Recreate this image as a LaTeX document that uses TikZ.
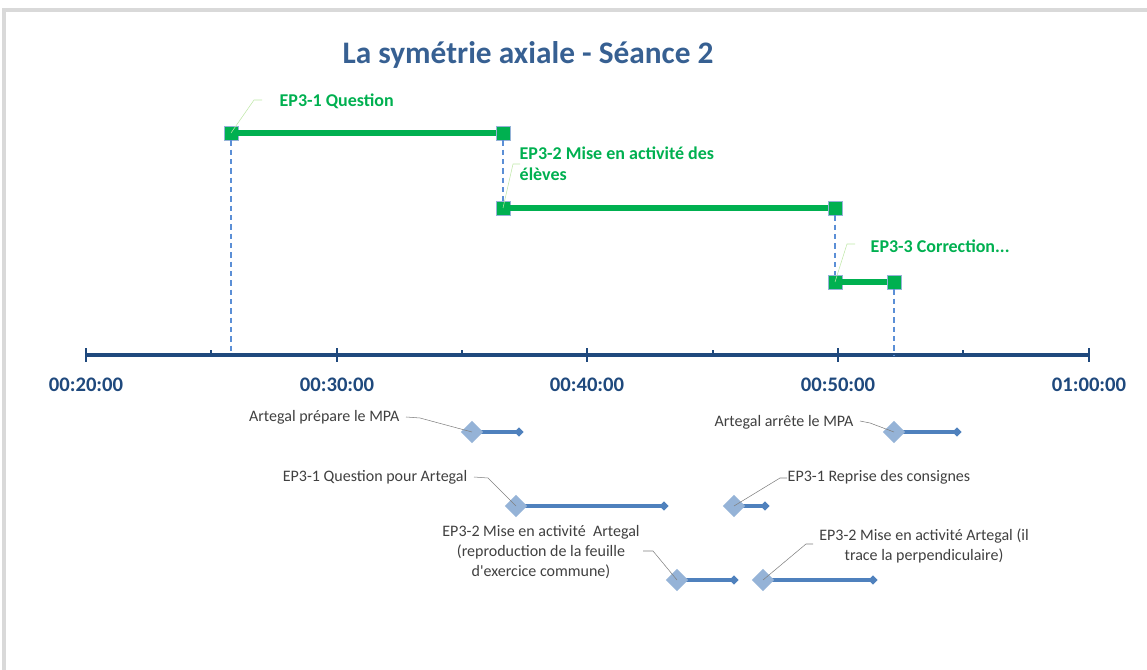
\documentclass[tikz,border=0pt]{standalone}
\usepackage{fontspec}
\setmainfont{Carlito}
\usetikzlibrary{shapes.geometric,backgrounds}
\definecolor{axisblue}{HTML}{1F497D}
\definecolor{titleblue}{HTML}{376092}
\definecolor{epgreen}{HTML}{00B050}
\definecolor{barblue}{HTML}{4F81BD}
\definecolor{diablue}{HTML}{95B3D7}
\definecolor{dashblue}{HTML}{5B8FD6}
\definecolor{framegray}{HTML}{D9D9D9}
\definecolor{txtgray}{HTML}{404040}
\tikzset{
  grbar/.style={line width=3.8pt, epgreen},
  grsq/.style={rectangle, fill=epgreen, draw=diablue, line width=0.6pt, minimum size=10.5pt, inner sep=0pt},
  glead/.style={line width=0.4pt, green!45!olive!35},
  dashv/.style={dashed, dashblue, line width=0.8pt, dash pattern=on 4pt off 3pt},
  bluebar/.style={line width=2.8pt, barblue},
  bigdia/.style={diamond, fill=diablue, minimum size=17pt, inner sep=0pt},
  smalldia/.style={diamond, fill=barblue, minimum size=7pt, inner sep=0pt},
  lead/.style={line width=0.4pt, gray},
  ticklbl/.style={font=\fontsize{15.5}{18}\selectfont\bfseries, text=axisblue},
  grlbl/.style={font=\fontsize{13.5}{15.8}\selectfont\bfseries, text=epgreen, align=left},
  gylbl/.style={font=\fontsize{12}{15}\selectfont, text=txtgray}
}
\begin{document}
\begin{tikzpicture}[x=0.75pt, y=-0.75pt]
    \useasboundingbox (0,0) rectangle (1147,670);
    % frame
    \draw[framegray, line width=3.5pt] (4,670) -- (4,10) -- (1147,10);
    % title
    \node[font=\fontsize{23.5}{28}\selectfont\bfseries, text=titleblue] (title) at (528,55) {La symétrie axiale - Séance 2};
    % axis
    \coordinate (a20) at (86,355);
    \coordinate (a30) at (337,355);
    \coordinate (a40) at (587,355);
    \coordinate (a50) at (838,355);
    \coordinate (a60) at (1089,355);
    \draw[axisblue, line width=2.3pt] (a20) -- (a60);
    \foreach \p/\t in {a20/00:20:00, a30/00:30:00, a40/00:40:00, a50/00:50:00, a60/01:00:00} {
        \draw[axisblue, line width=2pt] ([yshift=-5pt]\p) -- ([yshift=5pt]\p);
        \node[ticklbl] (l\p) at ([yshift=-22pt]\p) {\t};
    }
    \foreach \x in {211,462,713,963}
        \draw[axisblue, line width=1.5pt] (\x,355) -- (\x,350);
    % green phases
    \node[grsq] (q1) at (231,133) {};
    \node[grsq] (q2) at (503,133) {};
    \node[grsq] (m1) at (503,208) {};
    \node[grsq] (m2) at (835,208) {};
    \node[grsq] (c1) at (835,282) {};
    \node[grsq] (c2) at (894,282) {};
    \draw[grbar] (q1) -- (q2);
    \draw[grbar] (m1) -- (m2);
    \draw[grbar] (c1) -- (c2);
    \draw[dashv] (q1) -- (231,355);
    \draw[dashv] (q2) -- (m1);
    \draw[dashv] (m2) -- (c1);
    \draw[dashv] (c2) -- (894,355);
    \node[grlbl, anchor=west] (lq) at (275,101) {EP3-1 Question};
    \node[grlbl, anchor=west] (lm) at (515,164) {EP3-2 Mise en activité des\\élèves};
    \node[grlbl, anchor=west] (lc) at (866,246) {EP3-3 Correction...};
    \draw[glead] (q1.center) -- (254,100) -- (262,100);
    \draw[glead] (m1.center) -- (513,164) -- (520,164);
    \draw[glead] (c1.center) -- (847,244) -- (855,244);
    % Artegal
    \node[bigdia] (d1) at (472,432) {};
    \node[smalldia] (e1) at (519,432) {};
    \node[bigdia] (d2) at (516,506) {};
    \node[smalldia] (e2) at (664,506) {};
    \node[bigdia] (d3) at (677,580) {};
    \node[smalldia] (e3) at (734,580) {};
    \node[bigdia] (d4) at (894,432) {};
    \node[smalldia] (e4) at (957,432) {};
    \node[bigdia] (d5) at (734,506) {};
    \node[smalldia] (e5) at (765,506) {};
    \node[bigdia] (d6) at (763,580) {};
    \node[smalldia] (e6) at (873,580) {};
    \begin{scope}[on background layer]
        \foreach \i in {1,...,6}
            \draw[bluebar] (d\i.center) -- (e\i.center);
    \end{scope}
    \node[gylbl, anchor=east] (t1) at (404,417) {Artegal prépare le MPA};
    \node[gylbl, anchor=east] (t2) at (472,477) {EP3-1 Question pour Artegal};
    \node[gylbl, align=center] (t3) at (541,552) {EP3-2 Mise en activité~ Artegal\\(reproduction de la feuille\\d\textquotesingle exercice commune)};
    \node[gylbl, anchor=east] (t4) at (858,422) {Artegal arrête le MPA};
    \node[gylbl, anchor=west] (t5) at (783,477) {EP3-1 Reprise des consignes};
    \node[gylbl, align=center] (t6) at (924,546) {EP3-2 Mise en activité Artegal (il\\trace la perpendiculaire)};
    \draw[lead] (406,417) -- (420,418) -- (d1.center);
    \draw[lead] (474,477) -- (488,478) -- (d2.center);
    \draw[lead] (643,551) -- (653,551) -- (d3.center);
    \draw[lead] (860,421) -- (870,423) -- (d4.center);
    \draw[lead] (d5.center) -- (780,478) -- (787,478);
    \draw[lead] (d6.center) -- (806,544) -- (813,544);
\end{tikzpicture}
\end{document}
